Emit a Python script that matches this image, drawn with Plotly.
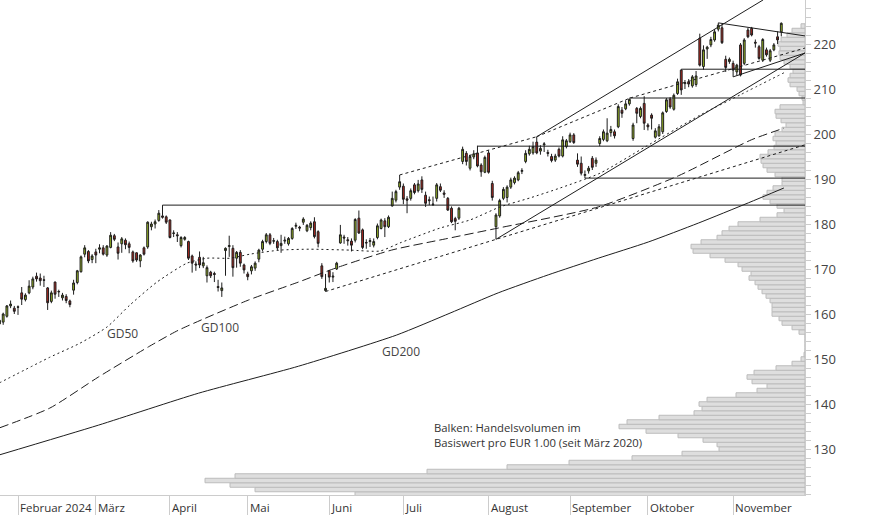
import plotly.graph_objects as go
import pandas as pd

# ---------------- categories: trading days ----------------
holidays = {"2024-03-29", "2024-04-01", "2024-05-01"}
dates = [d for d in pd.bdate_range("2024-01-25", "2024-11-20") if d.strftime("%Y-%m-%d") not in holidays]

month_labels = ["Februar 2024", "März", "April", "Mai", "Juni", "Juli",
                "August", "September", "Oktober", "November"]

# ---------------- OHLC series ----------------
opens = [157.8, 158.2, 159.5, 161.8, 161.3,
         161.6, 164.7, 163.2, 164.7, 166.0, 168.4, 168.0, 167.6, 165.8, 162.8,
         167.1, 164.9, 163.6, 163.9, 162.9, 165.3, 167.0, 169.4, 173.3, 173.9,
         172.1, 173.8, 174.4, 174.7, 173.1, 174.8, 177.4, 174.9, 175.6, 176.4,
         175.6, 173.8, 173.6, 171.8, 174.7, 174.9, 179.4, 180.0, 180.8, 181.8,
         181.6, 180.9, 177.9, 177.6, 175.2, 176.6, 176.1, 172.9, 171.1, 172.6,
         170.7, 168.5, 169.3, 169.0, 166.1, 165.2,
         174.1, 175.0, 174.6, 172.4, 173.7, 170.9, 168.9, 169.6, 170.2, 172.2,
         174.4, 176.1, 177.6, 176.3, 176.1, 175.2, 176.2, 175.6, 176.8, 179.5,
         179.3, 180.4, 178.5, 179.2, 180.5, 178.3,
         170.7, 165.2, 169.6, 168.2, 170.0, 175.8, 177.1, 176.5, 176.2, 176.4,
         181.3, 178.7, 175.9, 176.1, 175.3, 177.0, 179.0, 180.7, 179.4,
         184.0, 185.3, 188.2, 188.4, 185.6, 185.7, 188.7, 187.4, 189.8, 186.4,
         185.4, 184.3, 185.7, 188.3, 186.9, 185.7, 183.5, 181.2, 181.3,
         193.9, 195.7, 192.4, 194.9, 195.8, 193.1, 191.5, 195.8, 189.0, 179.4,
         181.8, 185.7, 185.9, 188.2, 189.2, 189.8, 191.7, 193.9, 195.6, 195.8,
         198.2, 196.2, 197.6, 195.9, 195.0, 194.2, 196.6, 195.1, 197.2, 198.3,
         199.8, 194.2, 193.5, 190.8, 191.8, 194.6, 193.5, 197.9, 198.8, 198.5,
         200.3, 200.5, 201.6, 205.3, 205.6, 206.7, 199.0, 205.7, 203.9, 206.8,
         202.0, 204.2, 199.3, 199.6, 200.5, 205.0, 207.8, 205.5, 209.0, 214.2,
         211.2, 211.6, 210.7, 211.0, 221.3, 215.0, 218.9, 219.8, 220.9, 223.3,
         223.6, 216.6, 216.1, 215.7, 213.8, 219.8, 215.7, 223.1, 223.5, 220.4,
         219.4, 216.4, 218.7, 216.4, 218.7, 221.6, 222.7]
highs = [159.3, 160.3, 162.0, 163.0, 161.8,
         161.9, 166.0, 164.6, 167.5, 168.3, 169.2, 169.0, 168.5, 166.0, 165.2,
         167.2, 165.4, 164.7, 164.4, 163.2, 167.6, 169.8, 173.0, 175.3, 174.2,
         173.3, 174.5, 175.5, 175.3, 175.3, 178.2, 177.8, 175.9, 177.1, 176.8,
         176.1, 174.1, 173.7, 173.3, 175.0, 180.6, 180.5, 181.0, 183.1, 184.2,
         181.9, 181.0, 178.6, 178.2, 177.3, 177.3, 176.3, 173.2, 171.7, 173.9,
         172.7, 170.8, 169.6, 169.4, 167.6, 167.0,
         174.8, 177.4, 175.3, 174.0, 174.2, 171.2, 169.4, 170.9, 171.7, 174.5,
         176.5, 178.0, 178.0, 176.9, 176.5, 177.6, 177.2, 177.1, 179.3, 180.3,
         179.6, 181.5, 180.0, 180.6, 181.5, 178.6,
         171.3, 168.9, 169.8, 169.3, 171.6, 179.8, 177.6, 177.1, 176.8, 181.3,
         183.0, 179.0, 176.6, 176.9, 176.8, 180.1, 181.2, 181.3, 181.9,
         187.2, 187.6, 190.9, 189.0, 186.2, 187.9, 189.1, 189.8, 190.6, 187.2,
         186.1, 186.1, 189.1, 189.0, 187.5, 186.0, 183.9, 181.6, 183.8,
         197.2, 196.2, 195.4, 196.4, 197.4, 193.5, 195.2, 196.4, 189.6, 182.4,
         185.6, 188.2, 188.6, 190.3, 190.6, 191.8, 192.4, 196.4, 197.4, 198.3,
         199.4, 197.5, 198.2, 196.5, 195.6, 195.6, 197.0, 199.5, 198.9, 200.3,
         200.2, 195.7, 195.0, 191.9, 192.9, 195.1, 194.8, 199.5, 201.0, 203.5,
         201.8, 201.0, 206.6, 206.0, 207.5, 207.9, 202.5, 206.0, 206.1, 208.4,
         202.4, 204.6, 201.3, 202.2, 205.0, 208.0, 208.2, 209.0, 212.3, 214.4,
         212.0, 212.2, 213.1, 214.0, 222.3, 219.7, 219.6, 221.6, 223.3, 224.7,
         224.4, 217.4, 217.0, 216.3, 215.6, 220.2, 221.3, 223.6, 223.8, 221.0,
         219.8, 221.3, 219.2, 218.9, 220.2, 222.8, 224.8]
lows = [157.2, 157.6, 159.2, 161.3, 160.0,
        159.8, 162.0, 162.8, 164.4, 165.5, 167.2, 166.3, 166.0, 160.9, 162.4,
        163.4, 163.8, 163.0, 162.4, 161.5, 164.3, 166.6, 169.2, 172.6, 171.3,
        171.3, 171.3, 173.5, 173.0, 172.7, 174.6, 176.2, 172.1, 173.6, 174.4,
        173.5, 171.4, 171.6, 170.4, 173.0, 174.5, 178.6, 179.0, 180.5, 181.2,
        180.0, 176.8, 177.1, 176.0, 174.8, 176.3, 172.0, 169.2, 169.6, 170.2,
        170.2, 167.0, 168.0, 167.1, 165.0, 163.8,
        168.5, 172.7, 168.3, 170.3, 170.5, 169.0, 167.5, 168.8, 169.6, 171.5,
        173.9, 175.7, 175.3, 175.6, 174.2, 173.6, 175.6, 175.2, 176.5, 178.9,
        178.4, 179.8, 178.2, 178.6, 176.8, 174.8,
        167.8, 165.0, 167.0, 167.1, 169.8, 175.6, 175.6, 175.2, 173.9, 175.9,
        177.8, 174.4, 174.5, 174.9, 174.8, 176.6, 178.8, 177.1, 179.1,
        183.9, 184.8, 187.6, 184.4, 182.4, 185.2, 186.6, 187.0, 186.9, 183.8,
        184.2, 184.0, 185.0, 187.1, 185.8, 182.9, 180.2, 178.6, 180.9,
        193.3, 193.0, 191.9, 194.4, 192.6, 190.5, 191.3, 191.2, 185.2, 176.6,
        181.4, 185.3, 184.8, 187.8, 188.8, 189.5, 191.1, 193.5, 195.2, 195.4,
        195.5, 195.4, 196.0, 195.0, 193.7, 193.8, 194.8, 194.8, 196.8, 198.0,
        197.8, 192.7, 190.8, 190.2, 191.2, 192.0, 192.7, 197.3, 198.4, 198.2,
        199.4, 199.0, 201.3, 203.6, 205.3, 206.3, 198.5, 202.4, 203.5, 200.9,
        200.8, 201.0, 199.0, 199.4, 200.0, 204.7, 205.6, 205.2, 208.7, 208.7,
        210.0, 210.4, 210.3, 210.5, 215.0, 214.3, 216.7, 219.3, 220.5, 222.8,
        220.0, 213.8, 215.6, 212.7, 213.0, 212.8, 215.3, 221.3, 221.7, 219.2,
        216.5, 216.0, 217.2, 216.0, 218.4, 220.0, 221.7]
closes = [158.6, 160.0, 161.8, 162.2, 160.6,
          161.5, 163.3, 164.2, 166.2, 167.8, 167.8, 167.4, 167.5, 162.5, 164.7,
          164.4, 165.0, 164.2, 163.0, 162.1, 166.9, 169.6, 172.7, 174.7, 171.8,
          172.9, 173.1, 174.7, 173.3, 175.1, 177.5, 176.6, 173.5, 176.7, 175.4,
          174.8, 171.8, 172.0, 173.1, 173.3, 180.4, 180.0, 180.5, 182.4, 181.5,
          180.4, 177.0, 178.0, 177.4, 177.0, 177.0, 172.4, 171.3, 170.9, 170.9,
          171.4, 170.3, 168.5, 168.8, 165.9, 165.8,
          174.6, 175.2, 170.3, 173.7, 171.3, 169.8, 168.3, 170.5, 171.3, 174.2,
          176.1, 177.6, 175.7, 176.2, 174.7, 175.7, 176.4, 176.8, 179.0, 179.7,
          179.1, 181.1, 179.7, 180.2, 177.2, 175.7,
          168.3, 165.7, 168.2, 168.4, 171.3, 177.6, 176.9, 176.3, 175.3, 181.0,
          178.0, 174.8, 175.8, 176.3, 176.1, 179.6, 180.9, 179.4, 181.5,
          185.7, 187.2, 189.4, 185.5, 185.3, 187.4, 187.0, 188.9, 187.7, 184.6,
          185.2, 184.4, 188.7, 187.5, 186.6, 183.1, 180.5, 180.6, 183.5,
          196.6, 193.9, 195.0, 195.6, 192.9, 191.6, 194.8, 191.5, 185.9, 182.0,
          185.2, 187.7, 188.2, 189.8, 190.2, 191.4, 191.9, 195.7, 196.6, 197.2,
          195.8, 196.8, 197.8, 195.7, 194.1, 195.1, 195.1, 198.7, 198.5, 199.8,
          198.1, 193.3, 191.3, 191.0, 192.4, 192.6, 194.2, 199.0, 200.5, 200.2,
          201.0, 199.6, 206.1, 204.6, 206.7, 207.7, 202.0, 204.6, 205.7, 202.4,
          201.6, 203.5, 200.7, 201.6, 204.7, 207.6, 206.0, 208.6, 211.6, 209.8,
          211.4, 211.1, 212.7, 212.9, 215.3, 218.7, 219.3, 221.0, 222.7, 224.2,
          220.3, 214.8, 216.6, 214.2, 215.3, 213.1, 220.9, 221.6, 222.0, 220.2,
          216.8, 221.0, 217.6, 218.5, 219.8, 220.9, 224.6]

# ---------------- moving averages (sampled, trading-day index, value) ----------------
gd50_x = [0, 13.6, 21.7, 29.0, 35.2, 42.5, 50.6, 56.0, 62.2, 67.6, 75.7, 83.8, 94.6, 102.7,
          108.1, 118.9, 127.0, 135.1, 143.2, 151.3, 162.1, 174.2, 189.1, 199.9, 211.7]
gd50_y = [144.7, 150.4, 153.5, 157.1, 162.0, 167.1, 171.3, 172.4, 172.4, 173.3, 174.2, 174.4,
          174.2, 174.0, 175.8, 179.1, 180.9, 183.8, 185.8, 188.0, 191.3, 197.1, 204.2, 208.7, 213.6]
gd100_x = [0, 13.6, 26.7, 40.2, 48.3, 67.2, 80.7, 90.7, 105.8, 120.4, 134.6, 161.6, 183.2, 202.9, 211.7]
gd100_y = [134.7, 139.1, 146.0, 152.7, 156.4, 163.1, 167.1, 170.2, 174.2, 176.7, 179.1, 183.8,
           190.7, 198.7, 201.3]
gd200_x = [0, 26.7, 53.7, 80.7, 107.1, 121.6, 134.6, 148.1, 161.6, 175.1, 188.6, 202.1, 211.7]
gd200_y = [128.7, 135.3, 142.4, 148.4, 155.3, 160.2, 164.7, 168.7, 172.4, 176.0, 180.2, 184.7, 188.0]

# ---------------- trend lines: (x0, y0, x1, y1, style) ----------------
x_end = 217.4
trend_lines = [
    (44, 184.2, x_end, 184.2, "solid"),
    (129, 197.3, x_end, 197.3, "solid"),
    (158, 190.2, x_end, 190.2, "solid"),
    (170, 208.0, x_end, 208.0, "solid"),
    (184, 214.4, x_end, 214.4, "solid"),
    (88, 165.0, x_end, 197.6, "3px,3px"),
    (108, 190.9, 145, 199.4, "3px,3px"),
    (145, 199.4, 170.2, 208.0, "3px,3px"),
    (170.2, 208.0, x_end, 219.1, "3px,3px"),
    (145, 199.4, 206.1, 229.8, "solid"),
    (134, 176.6, x_end, 218.0, "solid"),
    (194, 224.7, x_end, 221.8, "solid"),
    (198, 212.7, x_end, 218.0, "solid"),
]

# ---------------- volume profile ----------------
vol_levels = list(range(120, 225))
vol_values = [450, 550, 575, 600, 570, 378, 298, 236, 173, 123,
              86, 88, 102, 127, 159, 186, 178, 146, 111, 103,
              106, 98, 69, 48, 38, 53, 58, 51, 29, 13,
              4, 1, 0, 0, 0, 0, 6, 13, 23, 26,
              33, 33, 33, 35, 39, 43, 47, 50, 56, 54,
              63, 67, 80, 95, 112, 114, 104, 88, 83, 76,
              67, 45, 28, 21, 28, 35, 42, 38, 32, 23,
              23, 30, 38, 42, 44, 45, 37, 31, 29, 32,
              30, 23, 19, 24, 29, 30, 25, 2, 3, 6,
              8, 15, 17, 15, 12, 15, 21, 25, 26, 25,
              27, 24, 18, 13, 4]

n = min(len(dates), len(opens), len(highs), len(lows), len(closes))
xs = list(range(n))
month_pos = []
for i in range(1, n):
    if dates[i].month != dates[i - 1].month:
        month_pos.append(i)

FONT = "Open Sans"
LINE = "#1e1e1e"

fig = go.Figure()

fig.add_trace(go.Bar(
    y=vol_levels, x=vol_values, orientation="h", width=1,
    marker=dict(color="#dedede", line=dict(color="#bcbcbc", width=1)),
    xaxis="x", yaxis="y", hoverinfo="skip", showlegend=False))

fig.add_trace(go.Candlestick(
    x=xs, open=opens[:n], high=highs[:n], low=lows[:n], close=closes[:n],
    xaxis="x2", yaxis="y", whiskerwidth=0,
    increasing=dict(fillcolor="#9cbb24", line=dict(color=LINE, width=1)),
    decreasing=dict(fillcolor="#b3281f", line=dict(color=LINE, width=1)),
    hoverinfo="skip", showlegend=False))

for mx, my, dash in [(gd50_x, gd50_y, "2px,3px"), (gd100_x, gd100_y, "9px,4px"), (gd200_x, gd200_y, "solid")]:
    fig.add_trace(go.Scatter(x=mx, y=my, mode="lines", line=dict(color=LINE, width=1, dash=dash, shape="spline", smoothing=0.6),
                             xaxis="x2", yaxis="y", hoverinfo="skip", showlegend=False))

for x0, y0, x1, y1, dash in trend_lines:
    fig.add_trace(go.Scatter(x=[x0, x1], y=[y0, y1], mode="lines", line=dict(color=LINE, width=1, dash=dash),
                             xaxis="x2", yaxis="y", hoverinfo="skip", showlegend=False))

annotations = []
for p, lab in zip(month_pos, month_labels):
    annotations.append(dict(x=p, y=0, xref="x2", yref="paper", text=lab, showarrow=False,
                            xanchor="left", yanchor="middle", yshift=-12, xshift=0,
                            font=dict(family=FONT, size=11.5, color="#333")))
for txt, px, py in [("GD50", 33.3, 155.6), ("GD100", 59.5, 156.9), ("GD200", 108.4, 151.6)]:
    annotations.append(dict(x=px, y=py, xref="x2", yref="y", text=txt, showarrow=False,
                            font=dict(family=FONT, size=12, color="#444")))
annotations.append(dict(x=116.7, y=133.2, xref="x2", yref="y", xanchor="left", yanchor="middle", align="left",
                        text="Balken: Handelsvolumen im<br>Basiswert pro EUR 1.00 (seit März 2020)",
                        showarrow=False, font=dict(family=FONT, size=11.3, color="#333")))

tickvals = list(range(120, 230, 2))
ticktext = [str(v) if (v % 10 == 0 and 130 <= v <= 220) else "" for v in tickvals]

fig.update_layout(
    width=874, height=515,
    margin=dict(l=0, r=69, t=0, b=20),
    paper_bgcolor="white", plot_bgcolor="white",
    showlegend=False, hovermode=False,
    xaxis=dict(range=[805, 0], visible=False, domain=[0, 1], rangeslider=dict(visible=False), fixedrange=True),
    xaxis2=dict(overlaying="x", anchor="y", side="bottom", range=[0.14, x_end],
                tickvals=month_pos, ticktext=[""] * len(month_pos), ticks="outside", ticklen=20,
                tickcolor="#cccccc", showline=True, linecolor="#cccccc", showgrid=False, zeroline=False,
                rangeslider=dict(visible=False)),
    yaxis=dict(side="right", anchor="x", range=[119.78, 229.78], tickvals=tickvals, ticktext=ticktext,
               ticks="outside", ticklen=5, tickcolor="#cccccc", showline=True, linecolor="#cccccc",
               showgrid=False, zeroline=False, tickfont=dict(family=FONT, size=13, color="#444")),
    annotations=annotations,
)

fig.write_html("out.html", config={"displayModeBar": False, "staticPlot": True},
               post_script="document.body.style.margin='0px';document.body.style.overflow='hidden';")
